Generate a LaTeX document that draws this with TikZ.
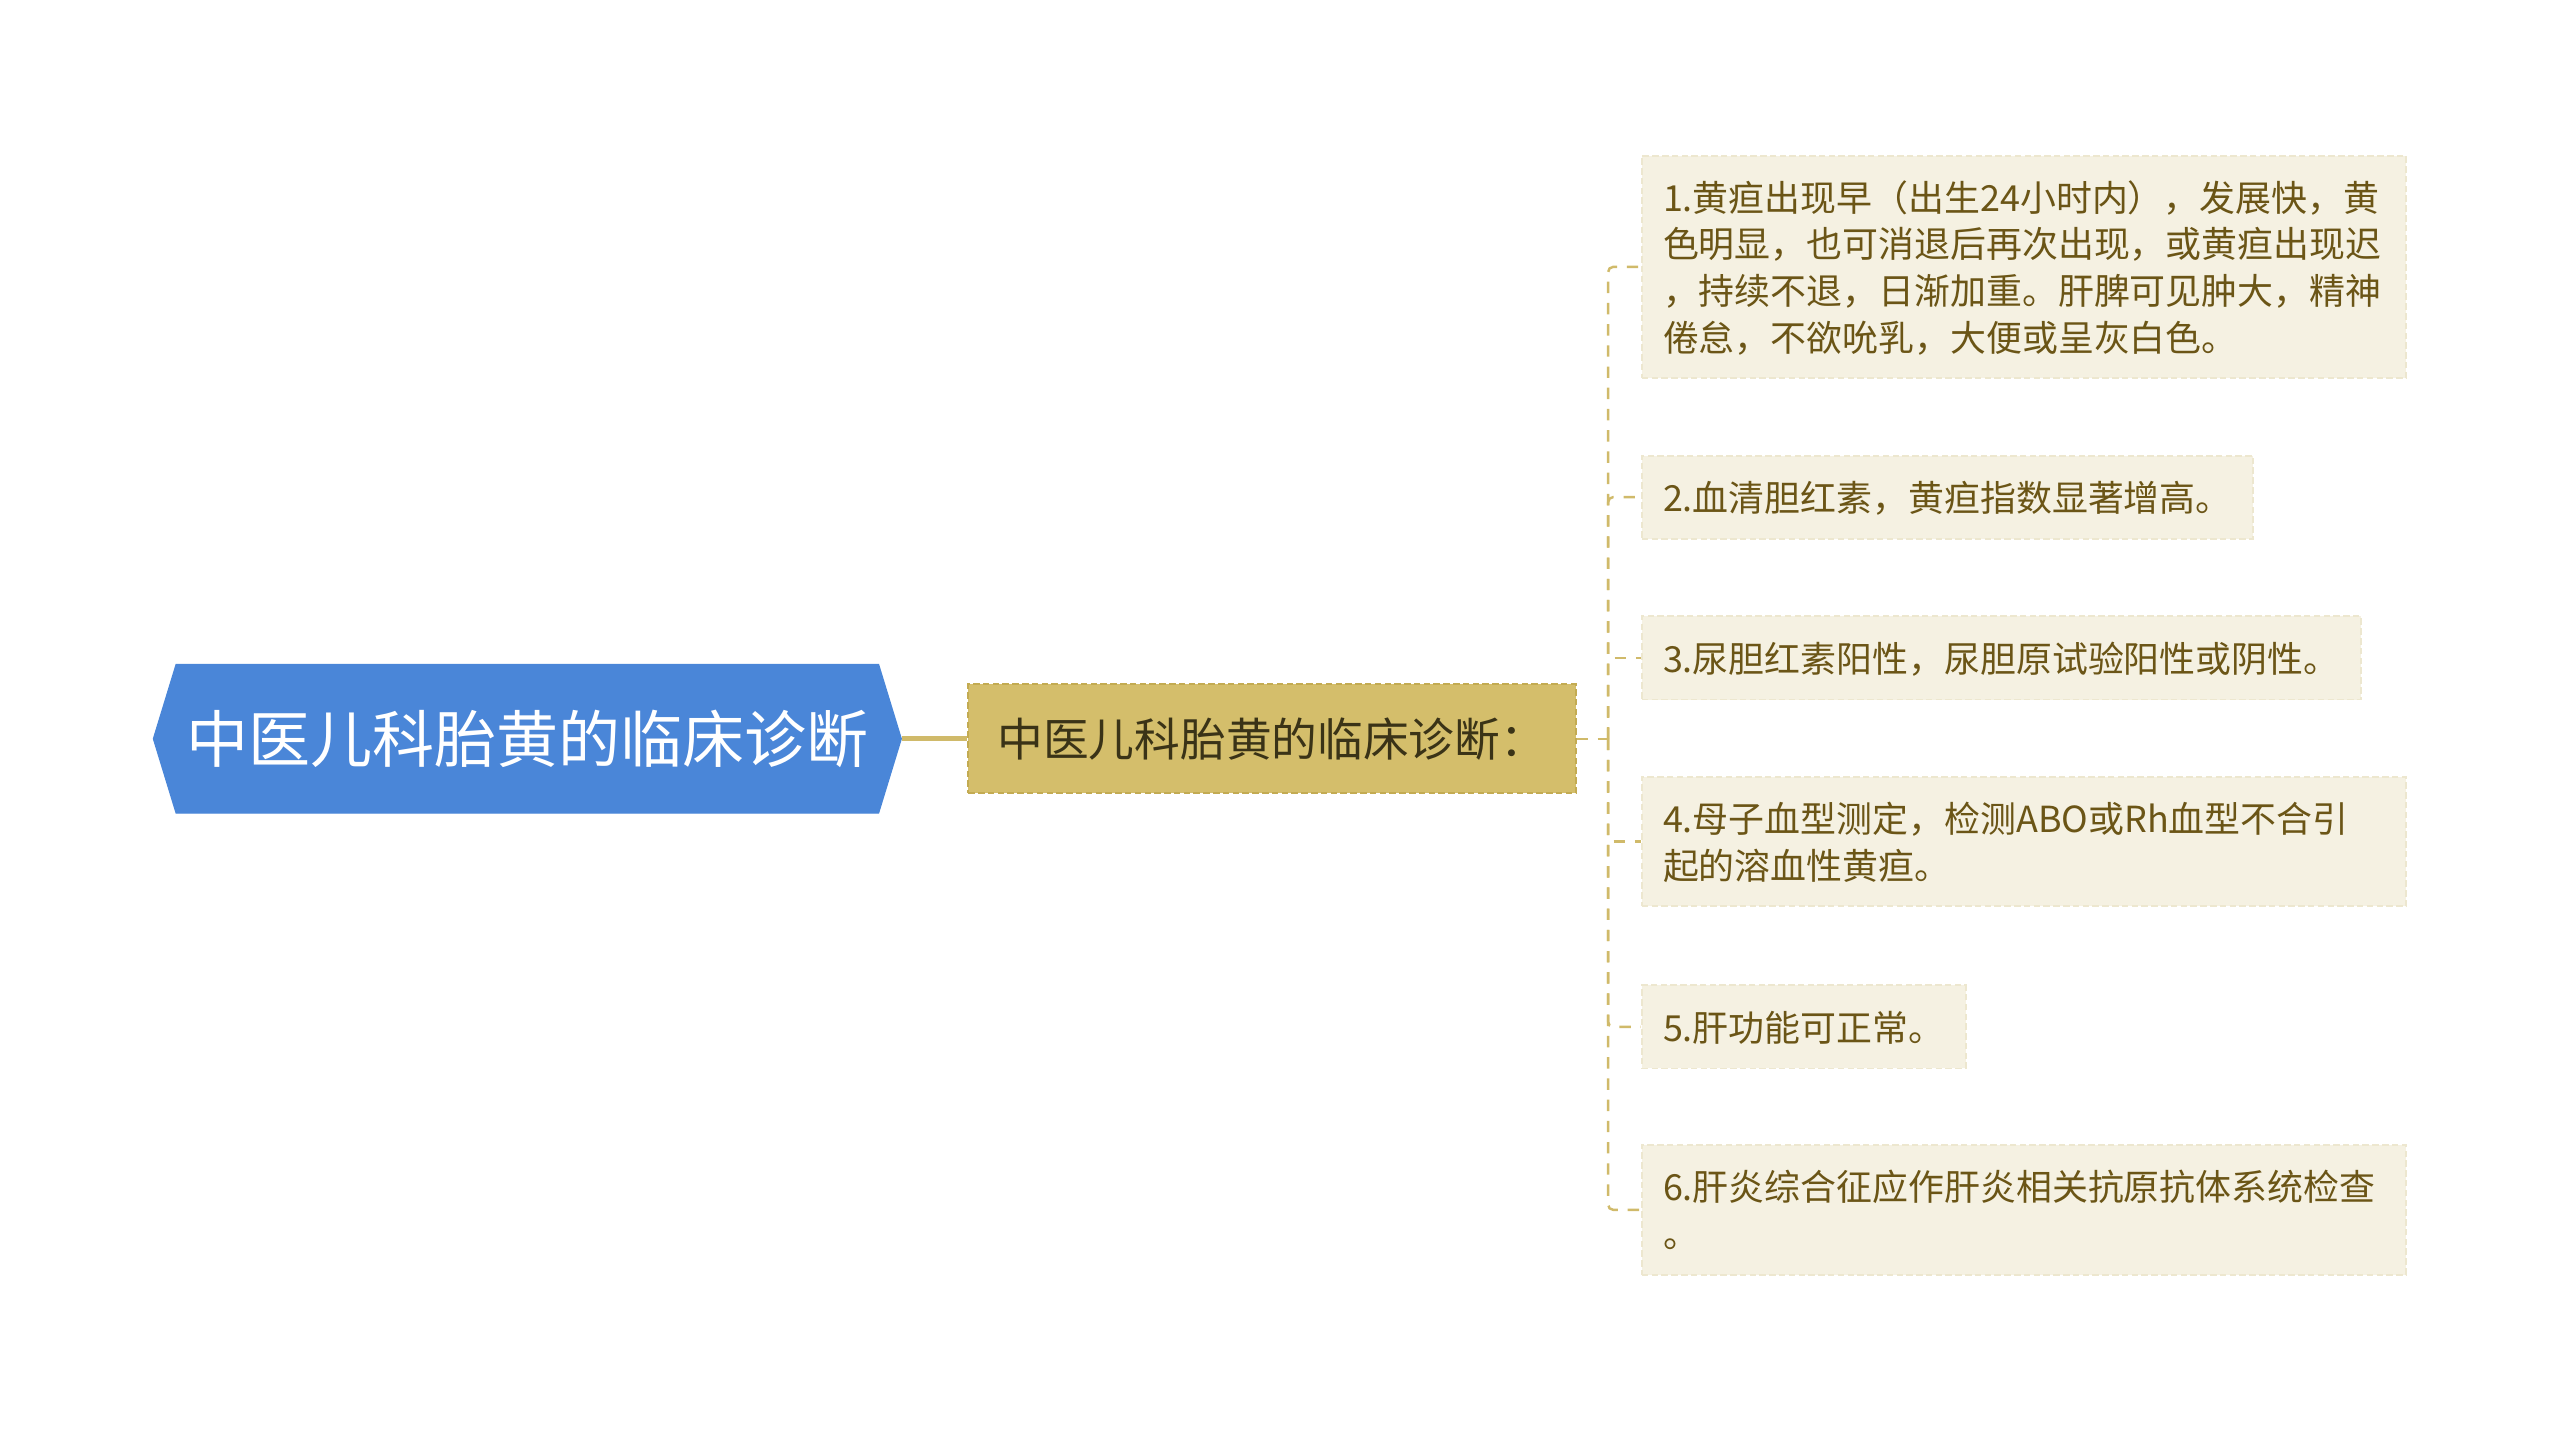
\documentclass[tikz,border=0pt]{standalone}
\usepackage{fontspec}
\setmainfont{Noto Sans CJK SC}
\usetikzlibrary{shapes.symbols}

\definecolor{rootblue}{HTML}{4A86D8}
\definecolor{subgold}{HTML}{D4BE6B}
\definecolor{subedge}{HTML}{C3AB52}
\definecolor{subtext}{HTML}{3A3317}
\definecolor{leafbg}{HTML}{F5F1E2}
\definecolor{leafedge}{HTML}{EDE7CF}
\definecolor{leaftext}{HTML}{6B5516}
\definecolor{linkgold}{HTML}{D0BA6A}

\begin{document}
\begin{tikzpicture}[x=0.5pt, y=-0.5pt,
  rootnode/.style={shape=signal, signal to=west and east, signal pointer angle=146,
    fill=rootblue, draw=rootblue, text=white, font=\fontsize{19}{23}\selectfont,
    minimum width=229pt, minimum height=45.5pt, inner xsep=0pt},
  subnode/.style={rectangle, fill=subgold, draw=subedge, line width=0.6pt,
    dash pattern=on 2pt off 1pt, text=subtext, font=\fontsize{14}{17}\selectfont,
    minimum width=186pt, minimum height=33.5pt},
  leafnode/.style={rectangle, anchor=west, fill=leafbg, draw=leafedge, line width=0.6pt,
    dash pattern=on 2pt off 1pt, text=leaftext, align=left,
    font=\fontsize{11}{14.25}\selectfont, inner xsep=6.5pt, inner ysep=5.6pt,
    execute at begin node=\rule{0pt}{11.5pt},
    execute at end node=\rule[-2.75pt]{0pt}{0pt}},
  wide/.style={text width=221pt},
  rootlink/.style={draw=linkgold, line width=1.5pt},
  branch/.style={draw=linkgold, line width=0.75pt, dash pattern=on 3.5pt off 3pt, rounded corners=1.5pt}
]
\useasboundingbox (0,0) rectangle (1568,876);

% main topic and its sub topic
\node[rootnode] (root) at (323,452.5) {中医儿科胎黄的临床诊断};
\node[subnode] (sub) at (779,452.5) {中医儿科胎黄的临床诊断：};

% the six items
\node[leafnode, wide] (leaf1) at (1005,163.5) {1.黄疸出现早（出生24小时内），发展快，黄\\色明显，也可消退后再次出现，或黄疸出现迟\\，持续不退，日渐加重。肝脾可见肿大，精神\\倦怠，不欲吮乳，大便或呈灰白色。};
\node[leafnode] (leaf2) at (1005,304.5) {2.血清胆红素，黄疸指数显著增高。};
\node[leafnode] (leaf3) at (1005,403) {3.尿胆红素阳性，尿胆原试验阳性或阴性。};
\node[leafnode, wide] (leaf4) at (1005,515.5) {4.母子血型测定，检测ABO或Rh血型不合引\\起的溶血性黄疸。};
\node[leafnode] (leaf5) at (1005,629) {5.肝功能可正常。};
\node[leafnode, wide] (leaf6) at (1005,741) {6.肝炎综合征应作肝炎相关抗原抗体系统检查\\。};

% connectors
\coordinate (fork) at (985,452.5);
\draw[rootlink] (root.east) -- (sub.west);
\draw[branch] (sub.east) -- (fork);
\foreach \i in {1,...,6}
  \draw[branch] (fork) |- (leaf\i.west);
\end{tikzpicture}
\end{document}
